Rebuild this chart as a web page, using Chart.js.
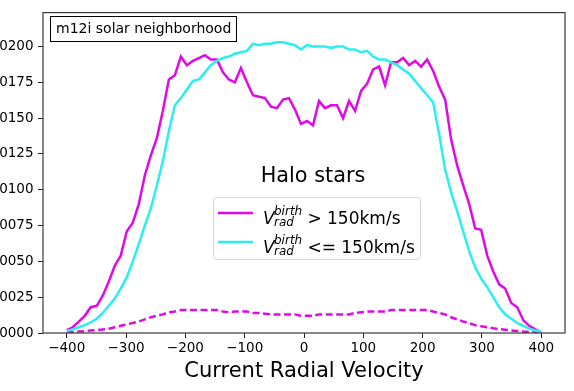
<!DOCTYPE html>
<html>
<head>
<meta charset="utf-8">
<script src="https://cdn.jsdelivr.net/npm/chart.js@4.4.1/dist/chart.umd.min.js"></script>
<style>
  html, body { margin: 0; padding: 0; background: #fff; }
  #wrap { position: relative; width: 574px; height: 391px; overflow: hidden; }
</style>
</head>
<body>
<div id="wrap"><canvas id="chart" width="574" height="391"></canvas></div>
<script>
// bin centres (km/s)
const velocity = [-400.0, -389.9, -379.7, -369.6, -359.5, -349.4, -339.2, -329.1, -319.0, -308.9,
  -298.7, -288.6, -278.5, -268.4, -258.2, -248.1, -238.0, -227.8, -217.7, -207.6,
  -197.5, -187.3, -177.2, -167.1, -157.0, -146.8, -136.7, -126.6, -116.5, -106.3,
  -96.2, -86.1, -75.9, -65.8, -55.7, -45.6, -35.4, -25.3, -15.2, -5.1,
  5.1, 15.2, 25.3, 35.4, 45.6, 55.7, 65.8, 75.9, 86.1, 96.2,
  106.3, 116.5, 126.6, 136.7, 146.8, 157.0, 167.1, 177.2, 187.3, 197.5,
  207.6, 217.7, 227.8, 238.0, 248.1, 258.2, 268.4, 278.5, 288.6, 298.7,
  308.9, 319.0, 329.1, 339.2, 349.4, 359.5, 369.6, 379.7, 389.9, 400.0];

// V_rad^birth > 150 km/s
const fastBirth = [0.0002, 0.0004, 0.0008, 0.0012, 0.0018, 0.0019, 0.0026, 0.0036, 0.0047, 0.0054,
  0.0071, 0.0077, 0.0090, 0.0110, 0.0124, 0.0136, 0.0155, 0.0177, 0.0180, 0.0193,
  0.0187, 0.0190, 0.0192, 0.0194, 0.0191, 0.0191, 0.0182, 0.0177, 0.0175, 0.0185,
  0.0175, 0.0166, 0.0165, 0.0164, 0.0158, 0.0157, 0.0163, 0.0164, 0.0156, 0.0146,
  0.0148, 0.0145, 0.0162, 0.0157, 0.0159, 0.0159, 0.0150, 0.0162, 0.0155, 0.0169,
  0.0174, 0.0184, 0.0186, 0.0173, 0.0189, 0.0189, 0.0192, 0.0187, 0.0190, 0.0186,
  0.0191, 0.0183, 0.0172, 0.0163, 0.0135, 0.0117, 0.0103, 0.0090, 0.0073, 0.0072,
  0.0054, 0.0043, 0.0034, 0.0031, 0.0021, 0.0018, 0.0009, 0.0005, 0.00025, 0.00005];

// V_rad^birth <= 150 km/s
const slowBirth = [0.00014, 0.00025, 0.0004, 0.00055, 0.00075, 0.0010, 0.0014, 0.0019, 0.0024, 0.0031,
  0.0039, 0.0050, 0.0062, 0.0075, 0.0087, 0.0103, 0.0120, 0.0141, 0.0159, 0.0164,
  0.0170, 0.0176, 0.0177, 0.0182, 0.0187, 0.0190, 0.0192, 0.0193, 0.0195, 0.0196,
  0.0197, 0.0202, 0.0201, 0.0202, 0.0202, 0.0203, 0.0203, 0.0202, 0.0201, 0.0198,
  0.0201, 0.0200, 0.0200, 0.0200, 0.0199, 0.0200, 0.0200, 0.0198, 0.0198, 0.0196,
  0.0197, 0.0193, 0.0191, 0.0191, 0.0189, 0.0187, 0.0184, 0.0181, 0.0176, 0.0171,
  0.0166, 0.0161, 0.0139, 0.0114, 0.0098, 0.0085, 0.0071, 0.0057, 0.0046, 0.0038,
  0.0032, 0.0025, 0.0018, 0.0013, 0.0010, 0.0007, 0.0005, 0.0003, 0.00017, 0.00007];

// dashed magenta curve (no legend entry)
const fastBirthLow = [0.00003, 0.00007, 0.0001, 0.00013, 0.00018, 0.0002, 0.00025, 0.0003, 0.0004, 0.0005,
  0.0006, 0.0007, 0.0008, 0.00095, 0.0011, 0.0012, 0.0013, 0.00145, 0.0015, 0.0016,
  0.0016, 0.0016, 0.0016, 0.0016, 0.0016, 0.0016, 0.0015, 0.00145, 0.0015, 0.0015,
  0.0015, 0.0014, 0.0014, 0.00135, 0.0013, 0.0013, 0.0013, 0.0013, 0.0013, 0.0012,
  0.0012, 0.0012, 0.0013, 0.0013, 0.0013, 0.0013, 0.0013, 0.0013, 0.0014, 0.00145,
  0.0015, 0.0015, 0.0015, 0.0015, 0.0016, 0.0016, 0.0016, 0.0016, 0.0016, 0.0016,
  0.0016, 0.0015, 0.0014, 0.0013, 0.0011, 0.00095, 0.0008, 0.00068, 0.00055, 0.00047,
  0.0004, 0.00033, 0.00027, 0.00022, 0.00018, 0.00014, 0.0001, 0.00007, 0.00005, 0.00003];

const xTicks = [-400, -300, -200, -100, 0, 100, 200, 300, 400];
const yTicks = [0, 0.0025, 0.005, 0.0075, 0.01, 0.0125, 0.015, 0.0175, 0.02];

const MAGENTA = "#e00ae6";
const CYAN = "#2beeee";
const FONT = "'DejaVu Sans', sans-serif";

const toPoints = (ys) => velocity.map((x, i) => ({ x: x, y: ys[i] }));

// marco, cuadro de texto y leyenda
const decorations = {
  id: "decorations",
  afterDraw(chart) {
    const { ctx, chartArea: a } = chart;
    ctx.save();

    // spines
    ctx.strokeStyle = "#3a3a3a";
    ctx.lineWidth = 1.2;
    ctx.strokeRect(a.left, a.top, a.right - a.left, a.bottom - a.top);

    // label box top left
    ctx.fillStyle = "#fff";
    ctx.fillRect(50, 16, 187, 25);
    ctx.strokeStyle = "#000";
    ctx.lineWidth = 1;
    ctx.strokeRect(50.5, 16.5, 186, 25);
    ctx.fillStyle = "#000";
    ctx.font = "14px " + FONT;
    ctx.textBaseline = "middle";
    ctx.textAlign = "left";
    ctx.fillText("m12i solar neighborhood", 56, 29);

    // legend title
    ctx.font = "20.8px " + FONT;
    ctx.textAlign = "center";
    ctx.fillText("Halo stars", 313, 177);

    // legend box
    ctx.beginPath();
    ctx.roundRect(213.5, 197.5, 207, 62, 3);
    ctx.fillStyle = "rgba(255,255,255,0.8)";
    ctx.fill();
    ctx.strokeStyle = "#d6d6d6";
    ctx.lineWidth = 1;
    ctx.stroke();

    const rows = [
      { color: MAGENTA, y: 213, rest: " > 150km/s" },
      { color: CYAN, y: 242, rest: " <= 150km/s" }
    ];
    rows.forEach((r) => {
      ctx.strokeStyle = r.color;
      ctx.lineWidth = 2.5;
      ctx.beginPath();
      ctx.moveTo(218, r.y);
      ctx.lineTo(253, r.y);
      ctx.stroke();

      const base = r.y + 11.3;
      ctx.fillStyle = "#000";
      ctx.textAlign = "left";
      ctx.textBaseline = "alphabetic";
      ctx.font = "italic 17px " + FONT;
      ctx.fillText("V", 263, base);
      ctx.font = "italic 12px " + FONT;
      ctx.fillText("birth", 274, base - 9.3);
      ctx.fillText("rad", 274, base + 1.5);
      ctx.font = "17px " + FONT;
      ctx.fillText(r.rest, 302, base);
    });

    ctx.restore();
  }
};

new Chart(document.getElementById("chart"), {
  type: "line",
  data: {
    datasets: [
      {
        label: "V_rad^birth <= 150km/s",
        data: toPoints(slowBirth),
        borderColor: CYAN,
        borderWidth: 2.5,
        pointRadius: 0,
        tension: 0
      },
      {
        label: "V_rad^birth > 150km/s",
        data: toPoints(fastBirth),
        borderColor: MAGENTA,
        borderWidth: 2.5,
        pointRadius: 0,
        tension: 0
      },
      {
        label: "low",
        data: toPoints(fastBirthLow),
        borderColor: MAGENTA,
        borderWidth: 2.5,
        borderDash: [7, 3.5],
        pointRadius: 0,
        tension: 0
      }
    ]
  },
  options: {
    responsive: false,
    animation: false,
    devicePixelRatio: 1,
    layout: { padding: { top: 9, right: 9, bottom: 0, left: 0 } },
    plugins: {
      legend: { display: false },
      tooltip: { enabled: false }
    },
    scales: {
      x: {
        type: "linear",
        min: -440,
        max: 440,
        afterBuildTicks: (s) => { s.ticks = xTicks.map((v) => ({ value: v })); },
        afterFit: (s) => { s.height = 58; },
        border: { display: false },
        grid: { drawOnChartArea: false, drawTicks: true, tickLength: 5, color: "#222" },
        ticks: {
          padding: 2,
          color: "#000",
          font: { family: FONT, size: 13.5 },
          maxRotation: 0,
          callback: (v) => (v < 0 ? "\u2212" + Math.abs(v) : String(v))
        },
        title: {
          display: true,
          text: "Current Radial Velocity",
          color: "#000",
          font: { family: FONT, size: 21 },
          padding: { top: 0, bottom: 7 }
        }
      },
      y: {
        min: 0,
        max: 0.02237,
        afterBuildTicks: (s) => { s.ticks = yTicks.map((v) => ({ value: v })); },
        afterFit: (s) => { s.width = 43; },
        border: { display: false },
        grid: { drawOnChartArea: false, drawTicks: true, tickLength: 5, color: "#222" },
        ticks: {
          padding: 4.5,
          color: "#000",
          font: { family: FONT, size: 13.5 },
          callback: (v) => v.toFixed(4)
        }
      }
    }
  },
  plugins: [decorations]
});
</script>
</body>
</html>
